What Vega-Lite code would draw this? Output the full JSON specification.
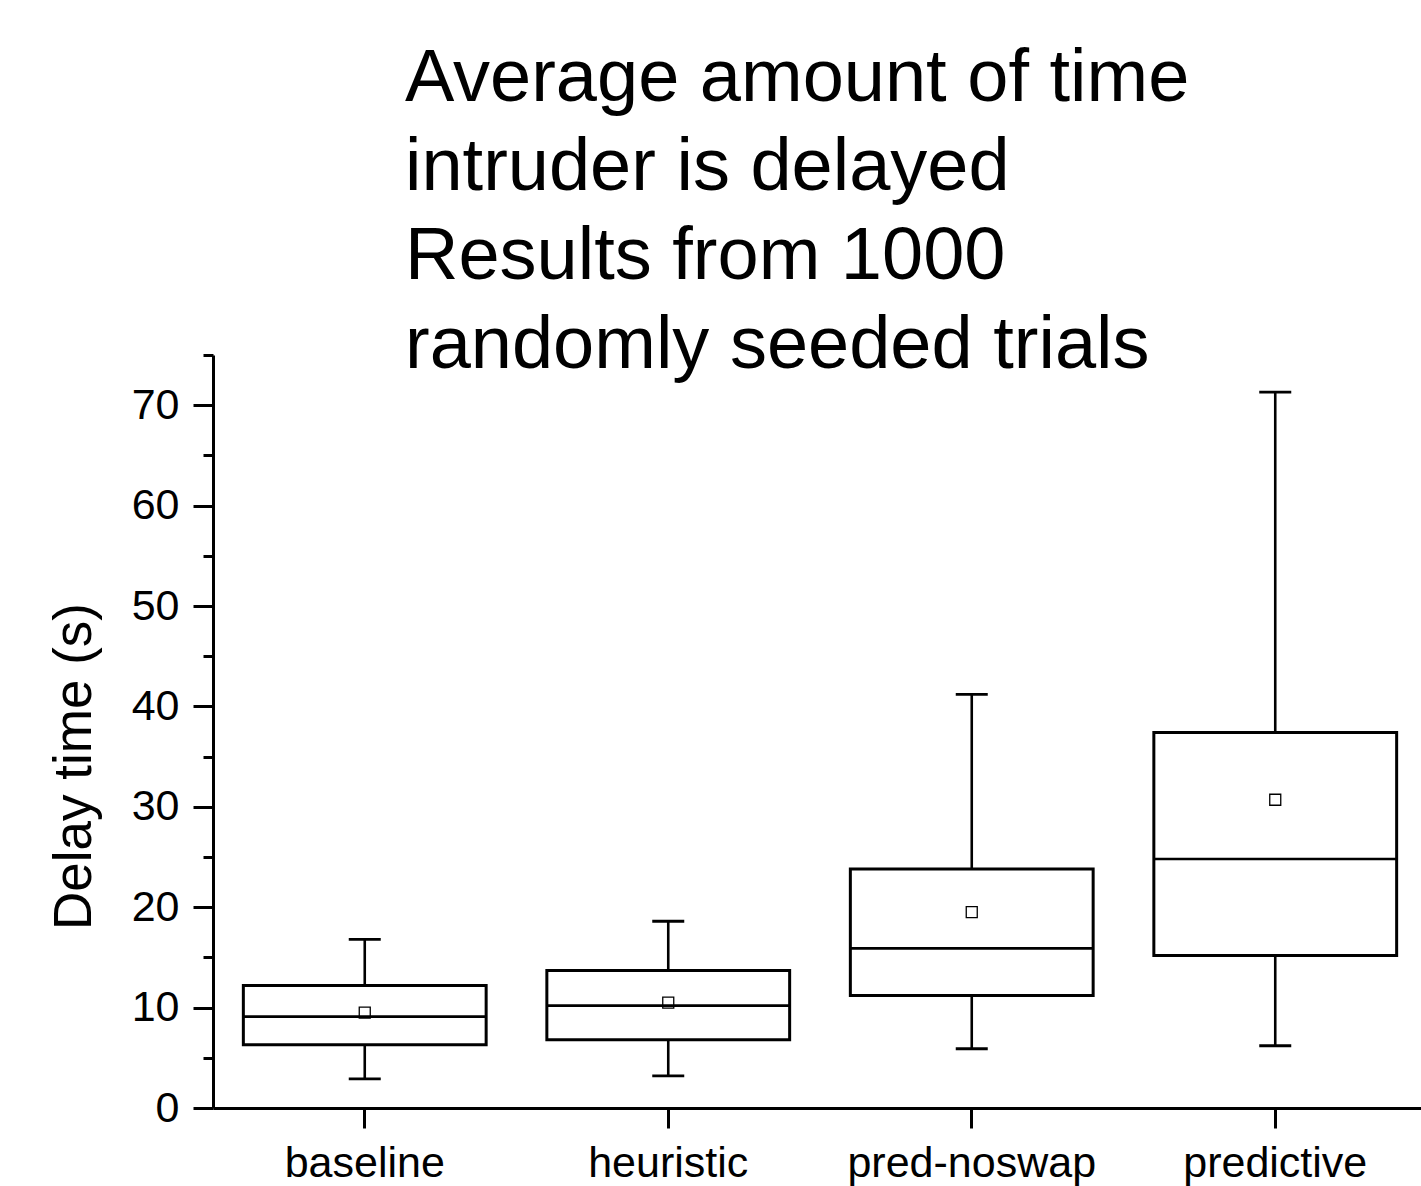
{
  "$schema": "https://vega.github.io/schema/vega-lite/v6.json",
  "width": 1208,
  "height": 753,
  "autosize": "none",
  "padding": {"left": 213, "top": 355, "right": 0, "bottom": 78},
  "background": "white",
  "config": {
    "view": {"stroke": null},
    "font": "Liberation Sans",
    "axis": {"grid": false, "domainColor": "black", "tickColor": "black", "labelColor": "black", "titleColor": "black", "labelFont": "Liberation Sans", "titleFont": "Liberation Sans", "labelLimit": 0}
  },
  "title": {
    "text": ["Average amount of time", "intruder is delayed", "Results from 1000", "randomly seeded trials"],
    "anchor": "start",
    "frame": "group",
    "dx": 192,
    "fontSize": 74,
    "lineHeight": 89,
    "font": "Liberation Sans",
    "fontWeight": "normal",
    "color": "black",
    "baseline": "bottom",
    "offset": -104
  },
  "data": {
    "values": [
      {"method": "baseline", "low": 2.9, "q1": 6.3, "median": 9.1, "q3": 12.2, "high": 16.8, "mean": 9.5},
      {"method": "heuristic", "low": 3.2, "q1": 6.8, "median": 10.2, "q3": 13.7, "high": 18.6, "mean": 10.5},
      {"method": "pred-noswap", "low": 5.9, "q1": 11.2, "median": 15.9, "q3": 23.8, "high": 41.2, "mean": 19.5},
      {"method": "predictive", "low": 6.2, "q1": 15.2, "median": 24.8, "q3": 37.4, "high": 71.3, "mean": 30.7}
    ]
  },
  "encoding": {
    "x": {
      "field": "method",
      "type": "nominal",
      "sort": null,
      "scale": {"paddingInner": 0, "paddingOuter": 0, "range": [0, 1214]},
      "axis": {
        "title": null,
        "labelAngle": 0,
        "labelFontSize": 43,
        "labelPadding": 14,
        "labelLimit": 0,
        "tickSize": 20,
        "tickWidth": 3,
        "domainWidth": 3
      }
    }
  },
  "layer": [
    {
      "mark": {"type": "rule", "color": "black", "strokeWidth": 2.6, "opacity": 1},
      "encoding": {
        "y": {
          "field": "low",
          "type": "quantitative",
          "scale": {"domain": [0, 75], "nice": false, "zero": true},
          "axis": {
            "orient": "left",
            "values": [0, 10, 20, 30, 40, 50, 60, 70],
            "labelFontSize": 43,
            "labelPadding": 14,
            "tickSize": 20,
            "tickWidth": 3,
            "domainWidth": 3,
            "title": "Delay time (s)",
            "titleFontSize": 53,
            "titleFontWeight": "normal",
            "titleAngle": 270,
            "titleAlign": "center",
            "titleBaseline": "alphabetic",
            "titleX": -123,
            "titleY": 411
          }
        },
        "y2": {"field": "high"}
      }
    },
    {
      "mark": {"type": "tick", "opacity": 0},
      "encoding": {
        "y": {
          "field": "mean",
          "type": "quantitative",
          "axis": {
            "orient": "left",
            "values": [5, 15, 25, 35, 45, 55, 65, 75],
            "labels": false,
            "domain": false,
            "tickSize": 10,
            "tickWidth": 3,
            "title": null
          }
        }
      }
    },
    {
      "mark": {"type": "bar", "fill": "white", "stroke": "black", "strokeWidth": 3, "opacity": 1, "width": {"band": 0.8}},
      "encoding": {
        "y": {"field": "q1", "type": "quantitative", "axis": null},
        "y2": {"field": "q3"}
      }
    },
    {
      "mark": {"type": "tick", "color": "black", "opacity": 1, "size": 243, "thickness": 2.6},
      "encoding": {"y": {"field": "median", "type": "quantitative", "axis": null}}
    },
    {
      "mark": {"type": "tick", "color": "black", "opacity": 1, "size": 32, "thickness": 2.8},
      "encoding": {"y": {"field": "low", "type": "quantitative", "axis": null}}
    },
    {
      "mark": {"type": "tick", "color": "black", "opacity": 1, "size": 32, "thickness": 2.8},
      "encoding": {"y": {"field": "high", "type": "quantitative", "axis": null}}
    },
    {
      "mark": {"type": "point", "shape": "square", "filled": false, "color": "black", "opacity": 1, "size": 121, "strokeWidth": 1.3},
      "encoding": {"y": {"field": "mean", "type": "quantitative", "axis": null}}
    }
  ],
  "resolve": {"axis": {"y": "independent"}}
}
